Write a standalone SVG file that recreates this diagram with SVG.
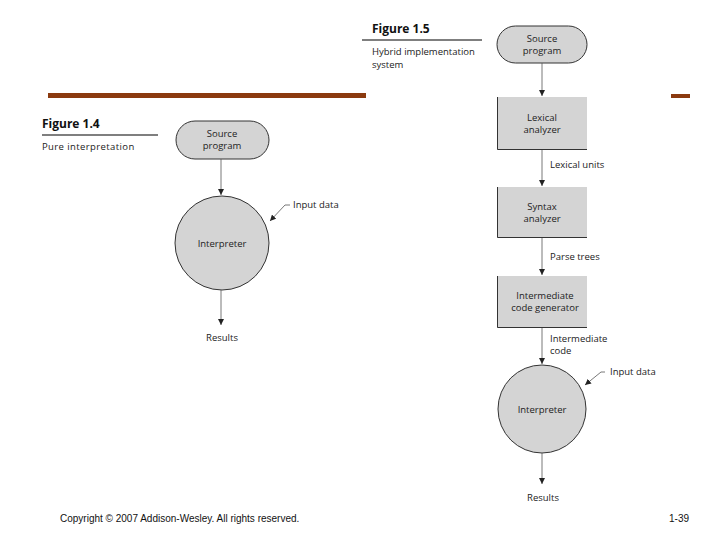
<svg xmlns="http://www.w3.org/2000/svg" width="720" height="540" viewBox="0 0 720 540">
<style>
.t{font-family:"Open Sans","Noto Sans",sans-serif;font-size:9.5px;fill:#222}
.c{text-anchor:middle}
.h{font-family:"Open Sans","Noto Sans",sans-serif;font-size:12px;font-weight:bold;fill:#111}
.n{fill:#d4d4d4;stroke:#333;stroke-width:1}
.box{fill:#d4d4d4}
.edge{stroke:#333;stroke-width:1;fill:none}
.ln{stroke:#555;stroke-width:0.8;fill:none}
.foot{font-family:"Liberation Sans",Arial,sans-serif;font-size:10px;fill:#111}
</style>
<defs>
<marker id="ah" viewBox="0 0 10 10" refX="10" refY="5" markerWidth="6" markerHeight="6" orient="auto" markerUnits="userSpaceOnUse">
<path d="M0,0 L10,5 L0,10 z" fill="#222"/>
</marker>
</defs>
<rect width="720" height="540" fill="#fff"/>
<rect x="48" y="93" width="318" height="5" fill="#8b3a0f"/>
<rect x="671" y="94" width="19" height="4" fill="#8b3a0f"/>

<g id="fig14-caption">
<text class="h" x="42" y="128">Figure 1.4</text>
<line x1="42" y1="135" x2="158" y2="135" stroke="#555" stroke-width="1.5"/>
<text class="t" x="42" y="150" letter-spacing="0.4">Pure interpretation</text>
</g>
<g id="fig15-caption">
<text class="h" x="372" y="33">Figure 1.5</text>
<line x1="362" y1="40" x2="482" y2="40" stroke="#555" stroke-width="1.5"/>
<text class="t" x="372" y="55">Hybrid implementation</text>
<text class="t" x="372" y="68">system</text>
</g>

<g id="src1">
<rect class="n" x="176" y="121" width="93" height="38" rx="19"/>
<text class="t c" x="222" y="137">Source</text>
<text class="t c" x="222" y="149">program</text>
</g>
<g id="interp1">
<circle class="n" cx="222" cy="243" r="47"/>
<text class="t c" x="222" y="247">Interpreter</text>
</g>
<g id="input1"><text class="t" x="293" y="208">Input data</text></g>
<g id="results1"><text class="t c" x="222" y="341">Results</text></g>

<g id="src2">
<rect class="n" x="497" y="26" width="90" height="37" rx="18.5"/>
<text class="t c" x="542" y="42">Source</text>
<text class="t c" x="542" y="54">program</text>
</g>
<g id="lex">
<rect class="box" x="497" y="97" width="90" height="53"/>
<path class="edge" d="M497.5,97 V149.5 H587"/>
<text class="t c" x="542" y="121">Lexical</text>
<text class="t c" x="542" y="133">analyzer</text>
</g>
<g id="syn">
<rect class="box" x="497" y="187" width="90" height="51"/>
<path class="edge" d="M497.5,187 V237.5 H587"/>
<text class="t c" x="542" y="210">Syntax</text>
<text class="t c" x="542" y="222">analyzer</text>
</g>
<g id="icg">
<rect class="box" x="497" y="276" width="90" height="52"/>
<path class="edge" d="M497.5,276 V327.5 H587"/>
<text class="t c" x="545" y="299">Intermediate</text>
<text class="t c" x="545" y="311">code generator</text>
</g>
<g id="interp2">
<circle class="n" cx="542" cy="409" r="44"/>
<text class="t c" x="542" y="413">Interpreter</text>
</g>
<g id="input2"><text class="t" x="610" y="375">Input data</text></g>
<g id="results2"><text class="t c" x="543" y="501">Results</text></g>

<g id="connectors">
<line class="ln" x1="221" y1="159" x2="221" y2="195" marker-end="url(#ah)"/>
<path class="ln" d="M290,205 H285 L270,221" marker-end="url(#ah)"/>
<line class="ln" x1="221" y1="290" x2="221" y2="325" marker-end="url(#ah)"/>
<line class="ln" x1="542" y1="63" x2="542" y2="96" marker-end="url(#ah)"/>
<line class="ln" x1="542" y1="150" x2="542" y2="186" marker-end="url(#ah)"/>
<text class="t" x="550" y="168">Lexical units</text>
<line class="ln" x1="542" y1="238" x2="542" y2="275" marker-end="url(#ah)"/>
<text class="t" x="550" y="260">Parse trees</text>
<line class="ln" x1="542" y1="328" x2="542" y2="364" marker-end="url(#ah)"/>
<text class="t" x="550" y="342">Intermediate</text>
<text class="t" x="550" y="354">code</text>
<path class="ln" d="M605,372 H601 L585,385" marker-end="url(#ah)"/>
<line class="ln" x1="542" y1="453" x2="542" y2="484" marker-end="url(#ah)"/>
</g>

<text class="foot" x="60" y="522">Copyright © 2007 Addison-Wesley. All rights reserved.</text>
<text class="foot" x="689" y="522" text-anchor="end">1-39</text>
</svg>
